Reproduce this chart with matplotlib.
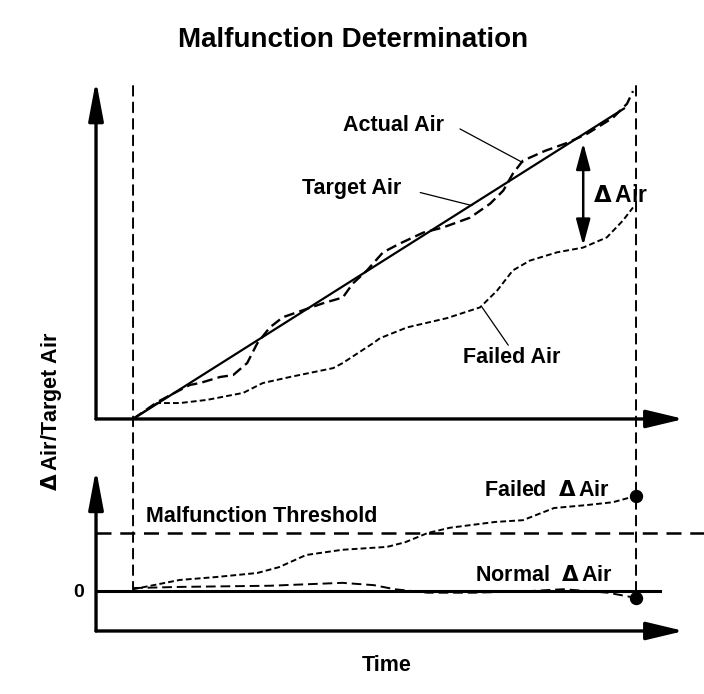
import numpy as np
import matplotlib
matplotlib.use("Agg")
import matplotlib.pyplot as plt
from matplotlib.patches import ConnectionPatch

plt.rcParams['font.family'] = ['Liberation Sans', 'DejaVu Sans']
plt.rcParams['font.weight'] = 'bold'
plt.rcParams['mathtext.fontset'] = 'dejavusans'

D = r'$\Delta\,$'

# --- dados (tempo normalizado 0..1) ---
t_target = [0.0, 0.978]
y_target = [0.0, 0.978]

t_actual = [0, 0.048, 0.074, 0.113, 0.133, 0.173, 0.199, 0.227, 0.247, 0.272,
            0.298, 0.338, 0.378, 0.417, 0.437, 0.465, 0.497, 0.531, 0.577, 0.616,
            0.670, 0.710, 0.736, 0.755, 0.775, 0.819, 0.863, 0.903, 0.954, 0.982, 0.994]
y_actual = [0, 0.053, 0.075, 0.107, 0.113, 0.132, 0.138, 0.176, 0.238, 0.288,
            0.320, 0.342, 0.364, 0.382, 0.426, 0.467, 0.524, 0.552, 0.586, 0.602,
            0.633, 0.677, 0.718, 0.771, 0.812, 0.843, 0.868, 0.897, 0.947, 0.991, 1.031]

t_failed = [0, 0.048, 0.093, 0.147, 0.219, 0.258, 0.312, 0.398, 0.417, 0.477, 0.491,
            0.545, 0.624, 0.690, 0.724, 0.755, 0.789, 0.843, 0.895, 0.942, 0.974, 0.994]
y_failed = [0, 0.050, 0.050, 0.060, 0.082, 0.113, 0.132, 0.160, 0.176, 0.238, 0.254,
            0.288, 0.317, 0.351, 0.404, 0.467, 0.498, 0.524, 0.539, 0.571, 0.624, 0.665]

# painel inferior: delta ar (limiar = 1)
limiar = 1.0
t_dfail = [0, 0.093, 0.165, 0.247, 0.290, 0.344, 0.416, 0.505, 0.541, 0.586,
           0.630, 0.720, 0.775, 0.837, 0.901, 0.954, 1.0]
v_dfail = [0.03, 0.19, 0.24, 0.31, 0.41, 0.62, 0.71, 0.76, 0.84, 1.00,
           1.09, 1.19, 1.22, 1.43, 1.48, 1.53, 1.64]

t_dnorm = [0, 0.093, 0.272, 0.416, 0.479, 0.52, 0.586, 0.676, 0.72, 0.793,
           0.855, 0.901, 0.944, 1.0]
v_dnorm = [0.05, 0.07, 0.09, 0.14, 0.10, 0.03, -0.03, -0.03, -0.02, 0.0,
           0.03, 0.0, -0.03, -0.12]

# delta ar (seta dupla)
t_delta = 0.895
delta_top, delta_bot = 0.868, 0.545

# --- figura ---
fig = plt.figure(figsize=(7.04, 6.94), dpi=100)
ax1 = fig.add_axes([0.1364, 0.3963, 0.8267, 0.4856])
ax2 = fig.add_axes([0.1364, 0.0908, 0.8267, 0.2320])

xl = (-0.0736, 1.0835)
ax1.set_xlim(xl)
ax1.set_ylim(0, 1.0597)
ax2.set_xlim(xl)
ax2.set_ylim(-0.69, 2.086)

for ax in (ax1, ax2):
    for s in ax.spines.values():
        s.set_visible(False)
    ax.set_xticks([])
    ax.set_yticks([])
    ax.patch.set_alpha(0)
    # eixos com setas
    ax.annotate('', xy=(1.01, 0), xytext=(0, 0), xycoords='axes fraction',
                arrowprops=dict(arrowstyle='-|>,head_length=23,head_width=5.5',
                                mutation_scale=1, lw=2.4, color='black',
                                shrinkA=0, shrinkB=0))
    ax.annotate('', xy=(0, 1.005), xytext=(0, 0), xycoords='axes fraction',
                arrowprops=dict(arrowstyle='-|>,head_length=24,head_width=4.5',
                                mutation_scale=1, lw=2.4, color='black',
                                shrinkA=0, shrinkB=0))

# painel superior
ax1.plot(t_target, y_target, color='black', lw=1.6, solid_capstyle='butt')
ax1.plot(t_actual, y_actual, color='black', lw=1.7, dashes=(4.5, 2.2))
ax1.plot(t_failed, y_failed, color='black', lw=1.4, dashes=(3, 1.6))

ax1.annotate('', xy=(t_delta, delta_top), xytext=(t_delta, delta_bot),
             arrowprops=dict(arrowstyle='<|-|>,head_length=16,head_width=4.3',
                             mutation_scale=1, lw=1.8, color='black',
                             shrinkA=0, shrinkB=0))
ax1.text(t_delta + 0.019, 0.702, D + 'Air', fontsize=16.5, ha='left', va='center')

lk = dict(arrowstyle='-', lw=0.9, color='black', shrinkA=0, shrinkB=0)
ax1.text(0.517, 0.922, 'Actual Air', fontsize=15.5, ha='center', va='center')
ax1.annotate('', xy=(0.775, 0.806), xytext=(0.650, 0.912), arrowprops=lk)
ax1.text(0.435, 0.724, 'Target Air', fontsize=15.5, ha='center', va='center')
ax1.annotate('', xy=(0.674, 0.671), xytext=(0.571, 0.712), arrowprops=lk)
ax1.text(0.753, 0.194, 'Failed Air', fontsize=15.5, ha='center', va='center')
ax1.annotate('', xy=(0.694, 0.351), xytext=(0.746, 0.232), arrowprops=lk)

# painel inferior
ax2.axhline(0, xmin=0, xmax=0.969, color='black', lw=2.2)
ax2.axhline(limiar, xmin=0, xmax=1.045, color='black', lw=1.8, dashes=(6, 3.5),
            clip_on=False)
ax2.plot(t_dfail, v_dfail, color='black', lw=1.4, dashes=(3, 1.6))
ax2.plot(t_dnorm, v_dnorm, color='black', lw=1.4, dashes=(5, 2.5))
ax2.plot([t_dfail[-1], t_dnorm[-1]], [v_dfail[-1], v_dnorm[-1]], 'o',
         color='black', ms=8.6, clip_on=False)

ax2.text(0.026, 1.276, 'Malfunction Threshold', fontsize=15.5, ha='left', va='center')
ax2.text(0.948, 1.74, 'Failed  ' + D + 'Air', fontsize=15.5, ha='right', va='center')
ax2.text(0.954, 0.26, 'Normal  ' + D + 'Air', fontsize=15.5, ha='right', va='center')
ax2.set_yticks([0])
ax2.set_yticklabels(['0'], fontsize=14, fontweight='bold')
ax2.tick_params(axis='y', length=0, pad=9)
ax2.set_xlabel('Time', fontsize=15.5, fontweight='bold', labelpad=17)

# linhas verticais tracejadas (inicio e fim)
for t0, v0 in ((0.0, 0.0), (1.0, v_dnorm[-1])):
    cp = ConnectionPatch(xyA=(t0, 1.047), coordsA=ax1.transData,
                         xyB=(t0, v0), coordsB=ax2.transData,
                         color='black', lw=1.4, linestyle=(0, (5, 3.5)))
    fig.add_artist(cp)

fig.text(0.0725, 0.408, D + 'Air/Target Air', rotation=90, fontsize=15.5,
         ha='center', va='center')
fig.text(0.501, 0.942, 'Malfunction Determination', fontsize=20,
         ha='center', va='center')

fig.savefig('out.png', dpi=100)
